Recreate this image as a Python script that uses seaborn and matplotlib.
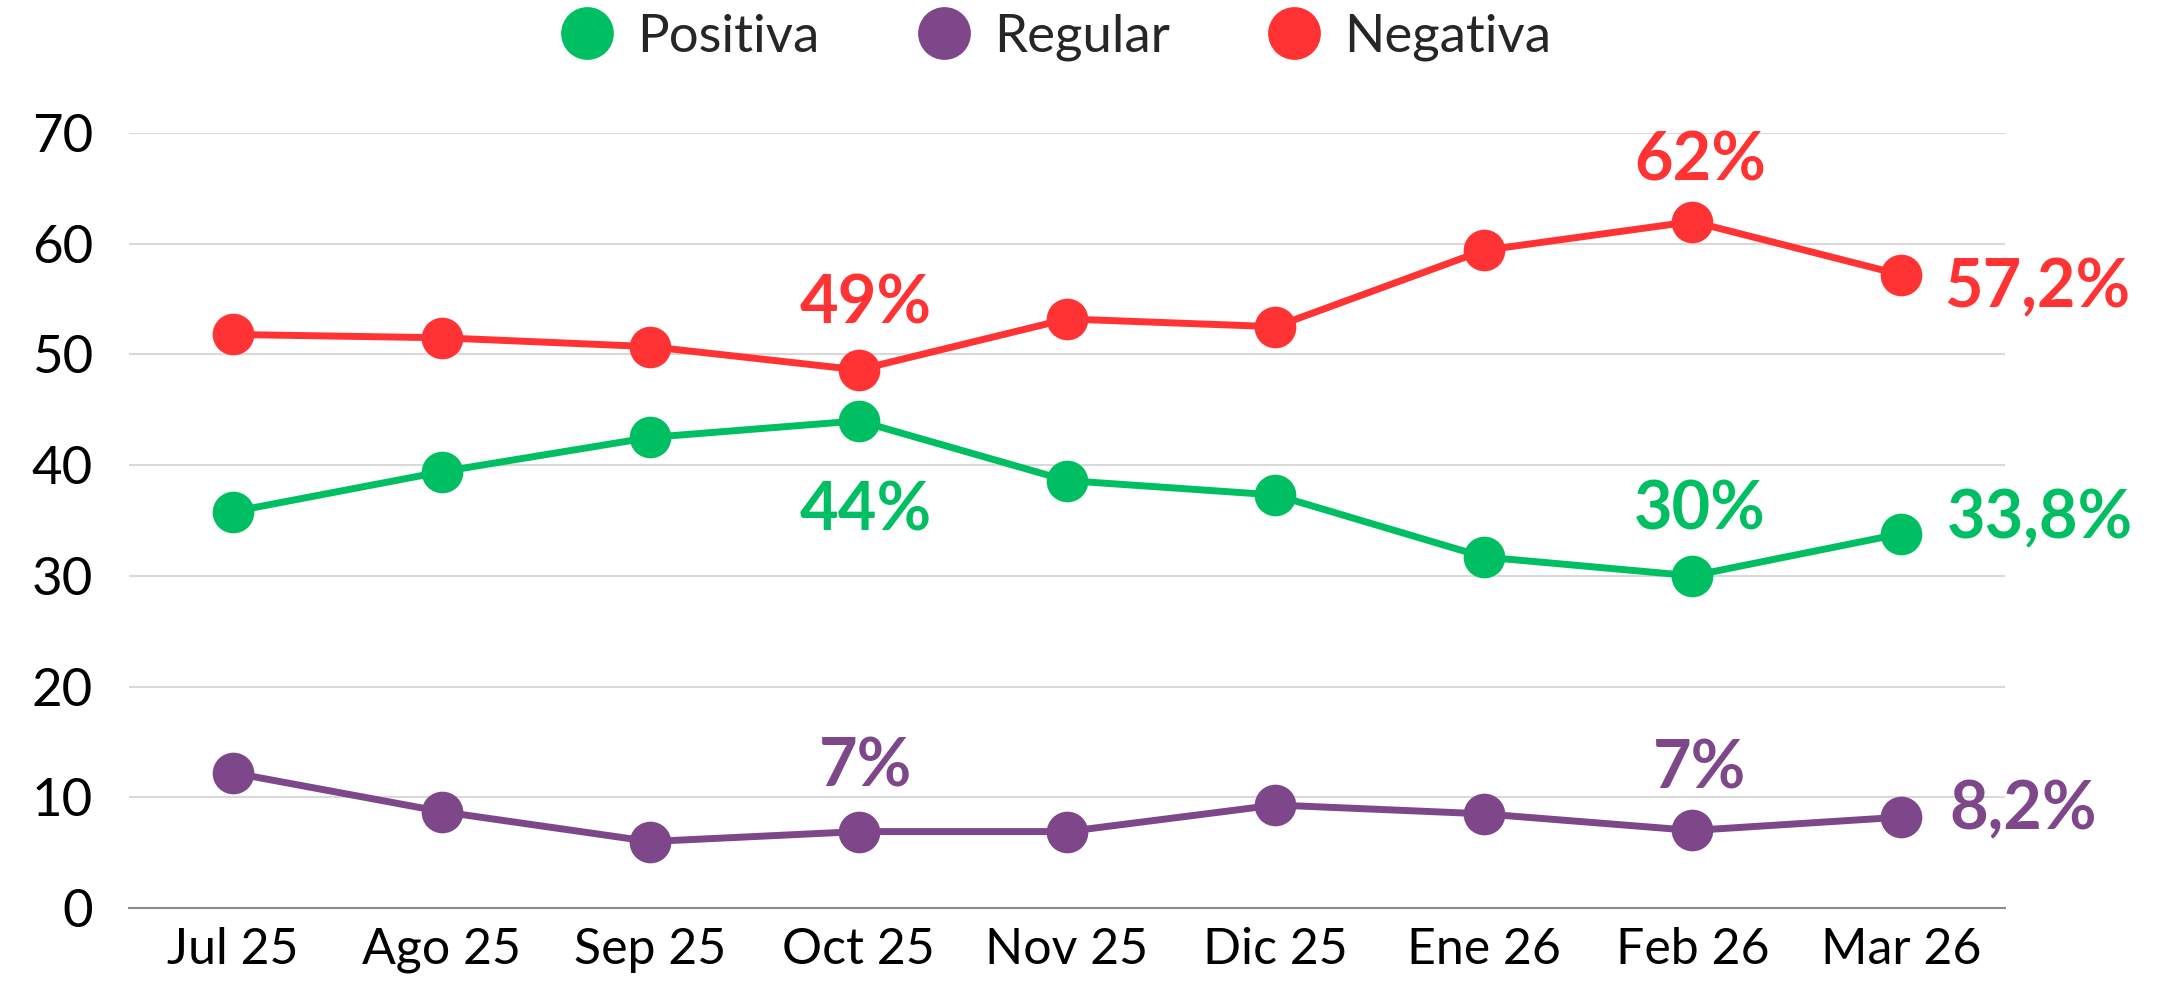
import matplotlib
matplotlib.use("Agg")
import matplotlib.pyplot as plt
from matplotlib.lines import Line2D
import seaborn as sns
import pandas as pd

meses = ["Jul 25", "Ago 25", "Sep 25", "Oct 25", "Nov 25", "Dic 25", "Ene 26", "Feb 26", "Mar 26"]
positiva = [35.8, 39.4, 42.5, 44.0, 38.6, 37.3, 31.7, 30.0, 33.8]
regular = [12.2, 8.7, 6.0, 6.9, 6.9, 9.3, 8.5, 7.0, 8.2]
negativa = [51.8, 51.5, 50.7, 48.6, 53.2, 52.5, 59.4, 62.0, 57.2]
series = ["Positiva", "Regular", "Negativa"]
colores = {"Positiva": "#00BF63", "Regular": "#7D4789", "Negativa": "#FF3333"}

df = pd.DataFrame({
    "mes": meses * 3,
    "valor": positiva + regular + negativa,
    "serie": ["Positiva"] * 9 + ["Regular"] * 9 + ["Negativa"] * 9,
})

sns.set_theme(style="white")
plt.rcParams["font.family"] = ["Lato", "DejaVu Sans"]

fig = plt.figure(figsize=(21.68, 9.82), dpi=100)
ax = fig.add_axes([0.0595, 0.0754, 0.8653, 0.7892])

sns.lineplot(data=df, x="mes", y="valor", hue="serie", hue_order=series,
             palette=colores, marker="o", markersize=30, markeredgewidth=0,
             linewidth=5, sort=False, ax=ax, legend=False)

ax.set_ylim(0, 70)
ax.set_xlim(-0.5, 8.5)
ax.set_yticks(range(0, 71, 10))
ax.set_xlabel("")
ax.set_ylabel("")
ax.yaxis.grid(True, color="#d9d9d9", linewidth=1.5)
ax.set_axisbelow(True)
for s in ["left", "right", "top"]:
    ax.spines[s].set_visible(False)
ax.spines["bottom"].set_color("#8c8c8c")
ax.spines["bottom"].set_linewidth(1.5)
ax.tick_params(axis="y", labelsize=38, length=0, pad=26, colors="black")
ax.tick_params(axis="x", labelsize=36, length=0, pad=14, colors="black")

# annotations
def ann(i, val, txt, color, dx, dy, ha="center", va="center"):
    ax.annotate(txt, (i, val), xytext=(dx, dy), textcoords="offset points",
                ha=ha, va=va, fontsize=48, fontweight="bold", color=color)

ann(3, negativa[3], "49%", colores["Negativa"], 5, 47)
ann(7, negativa[7], "62%", colores["Negativa"], 6, 43)
ann(8, negativa[8], "57,2%", colores["Negativa"], 31, -10, ha="left")
ann(3, positiva[3], "44%", colores["Positiva"], 5, -65)
ann(7, positiva[7], "30%", colores["Positiva"], 5, 47)
ann(8, positiva[8], "33,8%", colores["Positiva"], 33, 10, ha="left")
ann(3, regular[3], "7%", colores["Regular"], 5, 46)
ann(7, regular[7], "7%", colores["Regular"], 5, 44)
ann(8, regular[8], "8,2%", colores["Regular"], 35, 5, ha="left")

handles = [Line2D([0], [0], marker="o", linestyle="none", markersize=38,
                  markerfacecolor=colores[s], markeredgewidth=0) for s in series]
fig.legend(handles, series, loc="center", bbox_to_anchor=(0.487, 0.962), ncol=3,
           frameon=False, fontsize=38, handletextpad=0.45, columnspacing=1.85,
           handlelength=1.0)

fig.savefig("out.png", dpi=100)
